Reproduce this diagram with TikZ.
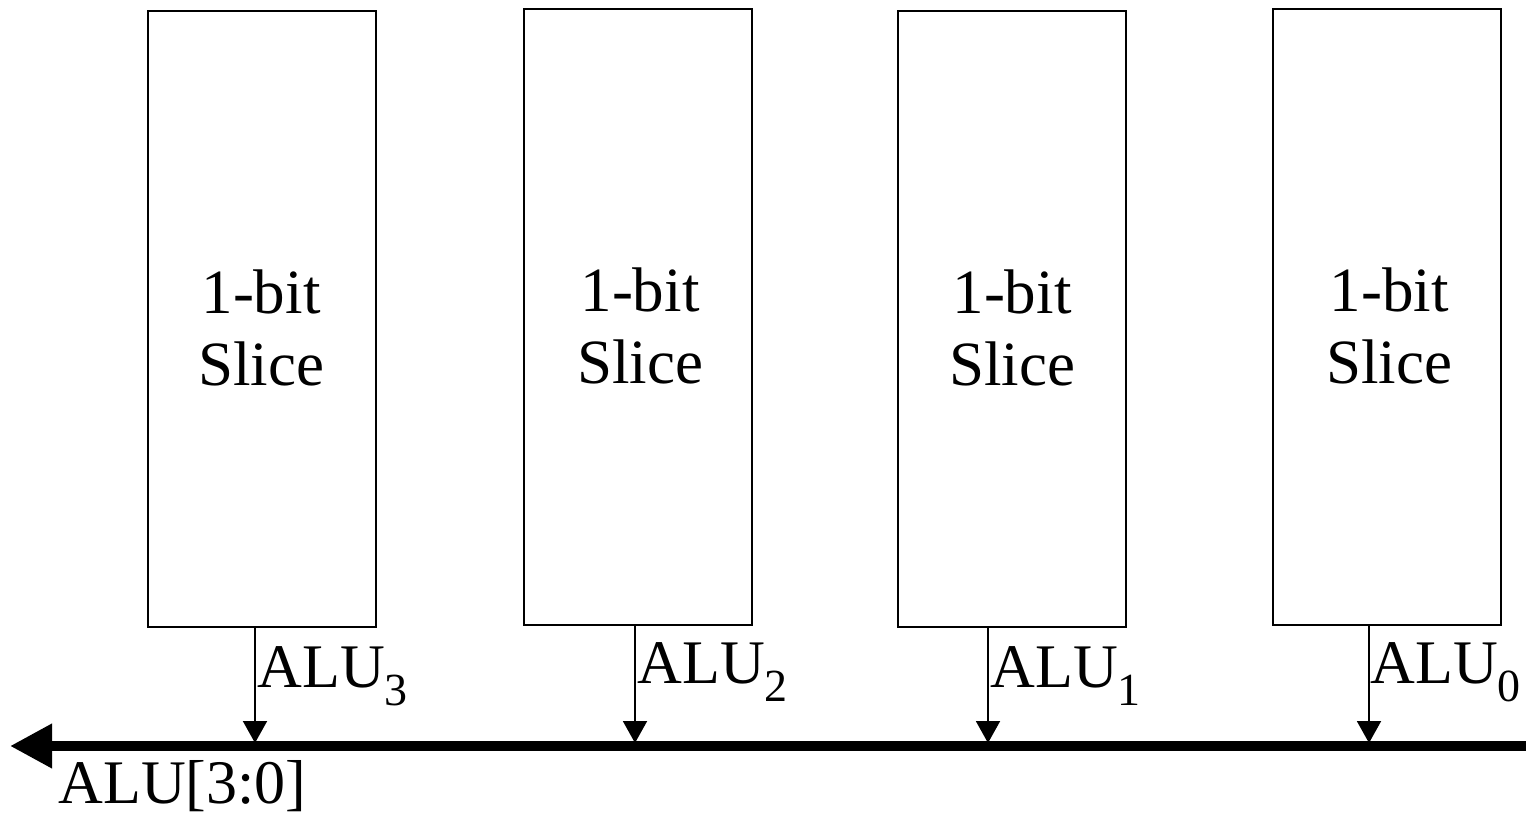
\documentclass[tikz,border=0pt]{standalone}
\usepackage{fontspec}
\setmainfont{Liberation Serif}
\usetikzlibrary{arrows.meta}
\newcommand{\sub}[1]{\raisebox{-9pt}{\fontsize{23}{23}\selectfont #1}}
\tikzset{
  slice/.style={draw, line width=1pt, minimum width=114pt, minimum height=308pt, inner sep=0pt},
  slicetext/.style={align=center, font=\fontsize{31.5}{36}\selectfont, inner sep=0pt},
  lbl/.style={anchor=base west, font=\fontsize{31}{36}\selectfont, inner sep=0pt},
  outarrow/.style={line width=1pt, -{Triangle[length=11pt,width=12pt]}, shorten >=1.5pt},
  busline/.style={line width=5pt, -{Triangle[length=21pt,width=21pt]}, shorten >=-2pt}
}
\begin{document}
\begin{tikzpicture}[x=0.5pt,y=-0.5pt]
\useasboundingbox (0,0) rectangle (1526,817);
\node[slice] (b3) at (262,319) {};
\node[slice] (b2) at (638,317) {};
\node[slice] (b1) at (1012,319) {};
\node[slice] (b0) at (1387,317) {};
\node[slicetext] (t3) at (261,328) {1-bit\\Slice};
\node[slicetext] (t2) at (640,326) {1-bit\\Slice};
\node[slicetext] (t1) at (1012,328) {1-bit\\Slice};
\node[slicetext] (t0) at (1389,326) {1-bit\\Slice};
\coordinate (busR) at (1526,746);
\coordinate (busL) at (14,746);
\coordinate (p3) at (255,746);
\coordinate (p2) at (635,746);
\coordinate (p1) at (988,746);
\coordinate (p0) at (1369,746);
\draw[busline] (busR) -- (busL);
\draw[outarrow] (b3.south -| p3) -- (p3);
\draw[outarrow] (b2.south -| p2) -- (p2);
\draw[outarrow] (b1.south -| p1) -- (p1);
\draw[outarrow] (b0.south -| p0) -- (p0);
\node[lbl] (l3) at (257,688) {ALU\sub{3}};
\node[lbl] (l2) at (637,683) {ALU\sub{2}};
\node[lbl] (l1) at (990,688) {ALU\sub{1}};
\node[lbl] (l0) at (1370,683) {ALU\sub{0}};
\node[lbl] (lb) at (58,803) {ALU[3:0]};
\end{tikzpicture}
\end{document}
